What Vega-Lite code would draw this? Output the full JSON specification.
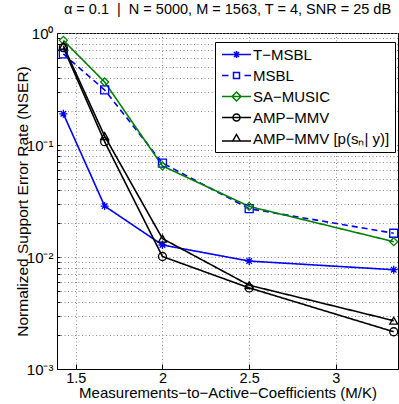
{
  "$schema": "https://vega.github.io/schema/vega-lite/v6.json",
  "width": 341,
  "height": 336,
  "autosize": {"type": "none"},
  "padding": {"left": 57, "top": 33, "right": 1, "bottom": 35},
  "background": "white",
  "title": {"text": "α = 0.1 \u00a0|\u00a0 N = 5000, M = 1563, T = 4, SNR = 25 dB", "font": "Liberation Sans", "fontSize": 14.5, "fontWeight": "normal", "anchor": "middle", "frame": "group", "offset": 9, "color": "black"},
  "config": {
    "view": {"stroke": "black", "strokeWidth": 1},
    "axis": {"labelFont": "Liberation Sans", "titleFont": "Liberation Sans", "labelColor": "black", "titleColor": "black", "domainColor": "black", "tickColor": "black", "titleFontWeight": "normal", "gridColor": "#8c8c8c", "gridDash": [1, 2.5], "gridOpacity": 1, "gridWidth": 1},
    "legend": {"orient": "none"}
  },
  "data": {"values": [
    {"series": "T−MSBL", "x": 1.4286, "y": 0.19},
    {"series": "T−MSBL", "x": 1.6667, "y": 0.0285},
    {"series": "T−MSBL", "x": 2.0, "y": 0.0128},
    {"series": "T−MSBL", "x": 2.5, "y": 0.0092},
    {"series": "T−MSBL", "x": 3.3333, "y": 0.0077},
    {"series": "MSBL", "x": 1.4286, "y": 0.65},
    {"series": "MSBL", "x": 1.6667, "y": 0.31},
    {"series": "MSBL", "x": 2.0, "y": 0.069},
    {"series": "MSBL", "x": 2.5, "y": 0.027},
    {"series": "MSBL", "x": 3.3333, "y": 0.0163},
    {"series": "SA−MUSIC", "x": 1.4286, "y": 0.86},
    {"series": "SA−MUSIC", "x": 1.6667, "y": 0.365},
    {"series": "SA−MUSIC", "x": 2.0, "y": 0.065},
    {"series": "SA−MUSIC", "x": 2.5, "y": 0.0283},
    {"series": "SA−MUSIC", "x": 3.3333, "y": 0.0137},
    {"series": "AMP−MMV", "x": 1.4286, "y": 0.74},
    {"series": "AMP−MMV", "x": 1.6667, "y": 0.107},
    {"series": "AMP−MMV", "x": 2.0, "y": 0.0101},
    {"series": "AMP−MMV", "x": 2.5, "y": 0.0053},
    {"series": "AMP−MMV", "x": 3.3333, "y": 0.00215},
    {"series": "AMP−MMV [p(sₙ| y)]", "x": 1.4286, "y": 0.77},
    {"series": "AMP−MMV [p(sₙ| y)]", "x": 1.6667, "y": 0.12},
    {"series": "AMP−MMV [p(sₙ| y)]", "x": 2.0, "y": 0.0146},
    {"series": "AMP−MMV [p(sₙ| y)]", "x": 2.5, "y": 0.0056},
    {"series": "AMP−MMV [p(sₙ| y)]", "x": 3.3333, "y": 0.0027}
  ]},
  "encoding": {
    "x": {"field": "x", "type": "quantitative", "scale": {"domain": [1.392, 3.358], "nice": false, "zero": false},
      "axis": {"values": [1.5, 2, 2.5, 3], "format": "~g", "grid": true, "tickSize": -5, "labelPadding": 7, "labelFontSize": 14.5, "title": "Measurements−to−Active−Coefficients (M/K)", "titleFontSize": 15, "titlePadding": 1}},
    "y": {"field": "y", "type": "quantitative", "scale": {"type": "log", "domain": [0.001, 1], "nice": false},
      "axis": {"values": [0.001, 0.002, 0.003, 0.004, 0.005, 0.006, 0.007, 0.008, 0.009, 0.01, 0.02, 0.03, 0.04, 0.05, 0.06, 0.07, 0.08, 0.09, 0.1, 0.2, 0.3, 0.4, 0.5, 0.6, 0.7, 0.8, 0.9, 1],
        "labelExpr": "datum.value === 1 ? '10⁰' : datum.value === 0.1 ? '10⁻¹' : datum.value === 0.01 ? '10⁻²' : datum.value === 0.001 ? '10⁻³' : ''",
        "grid": true, "tickSize": -3, "labelPadding": 7, "labelFontSize": 15, "labelOverlap": false, "title": "Normalized Support Error Rate (NSER)", "titleFontSize": 15.5, "titlePadding": -4}},
    "color": {"field": "series", "type": "nominal",
      "scale": {"domain": ["T−MSBL", "MSBL", "SA−MUSIC", "AMP−MMV", "AMP−MMV [p(sₙ| y)]"], "range": ["#0000ff", "#0000ff", "#008000", "#000000", "#000000"]},
      "legend": {
        "title": null, "orient": "none", "legendX": 158, "legendY": 9,
        "strokeColor": "black", "fillColor": "white", "padding": 5,
        "labelFont": "Liberation Sans", "labelFontSize": 15, "labelColor": "black", "labelLimit": 300,
        "symbolSize": 100, "symbolStrokeWidth": 1.5, "symbolOffset": 9, "labelOffset": 9, "rowPadding": 5,
        "encode": {"symbols": {"update": {
          "shape": {"signal": "datum.value === 'T−MSBL' ? 'M-2.9,0H2.9M-0.7,0H0.7M0,-0.7V0.7M-0.5,-0.5L0.5,0.5M-0.5,0.5L0.5,-0.5' : datum.value === 'MSBL' ? 'M-2.9,0H-1.6M1.6,0H2.9M-0.6,-0.6H0.6V0.6H-0.6Z' : datum.value === 'SA−MUSIC' ? 'M-2.9,0H2.9M0,-0.9L0.9,0L0,0.9L-0.9,0Z' : datum.value === 'AMP−MMV' ? 'M-2.9,0H2.9M-0.7,0A0.7,0.7 0 1,0 0.7,0A0.7,0.7 0 1,0 -0.7,0' : 'M-2.9,0.5H2.9M0,-0.8L0.75,0.5H-0.75Z'"},
          "fill": {"value": "transparent"}
        }}}
      }}
  },
  "layer": [
    {"mark": {"type": "line", "strokeWidth": 1.6, "clip": true},
      "encoding": {
        "strokeDash": {"field": "series", "type": "nominal", "legend": null,
          "scale": {"domain": ["MSBL", "T−MSBL", "SA−MUSIC", "AMP−MMV", "AMP−MMV [p(sₙ| y)]"], "range": [[6, 4], [1, 0], [1, 0], [1, 0], [1, 0]]}}
      }},
    {"mark": {"type": "point", "filled": false, "size": 64, "strokeWidth": 1.3, "opacity": 1},
      "encoding": {
        "shape": {"field": "series", "type": "nominal",
          "scale": {"domain": ["SA−MUSIC", "MSBL", "T−MSBL", "AMP−MMV", "AMP−MMV [p(sₙ| y)]"],
            "range": ["diamond", "square", "M-1,0H1M0,-1V1M-0.7,-0.7L0.7,0.7M-0.7,0.7L0.7,-0.7", "circle", "triangle-up"]},
          "legend": null}
      }}
  ]
}
